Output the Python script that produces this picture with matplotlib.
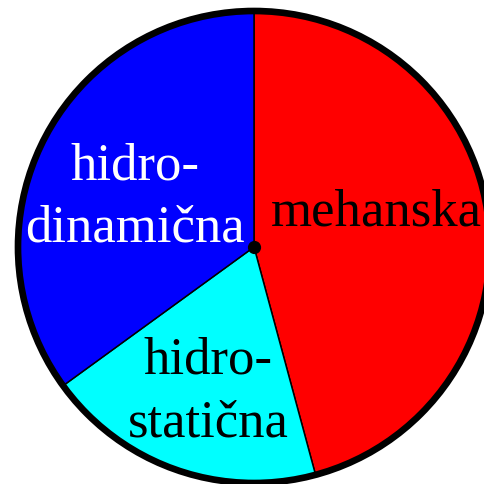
import matplotlib
matplotlib.use("Agg")
import matplotlib.pyplot as plt
from matplotlib.patches import Circle

labels = ["mehanska", "hidro-\nstatična", "hidro-\ndinamična"]
values = [45.8, 19.2, 35.0]
colors = ["#ff0000", "#00ffff", "#0000ff"]
text_colors = ["black", "black", "white"]

W = 485
fig = plt.figure(figsize=(4.85, 4.85), dpi=100)
ax = fig.add_axes([0, 0, 1, 1])

cx, cy, r = 254, W - 248, 236
ax.pie(values, colors=colors, startangle=90, counterclock=False,
       center=(cx, cy), radius=r, frame=True,
       wedgeprops=dict(edgecolor="black", linewidth=1.1))
ax.set_xlim(0, W)
ax.set_ylim(0, W)
ax.set_aspect("equal")
ax.axis("off")
ax.add_patch(Circle((cx, cy), r, fill=False, edgecolor="black", linewidth=4.8, zorder=5))
ax.plot([cx], [cy], marker="o", color="black", markersize=8.5, zorder=6)

font = dict(family="Liberation Serif", fontsize=38)
# label placement (pixel coords from top), baseline of last line
pos = [(376, 225), (208, 437), (135, 242)]
for lab, tc, (x, yb) in zip(labels, text_colors, pos):
    lines = lab.split("\n")
    for i, line in enumerate(reversed(lines)):
        ax.text(x, W - (yb - i * 63), line, color=tc, ha="center", va="baseline",
                zorder=7, **font)

fig.savefig("out.png", dpi=100)
